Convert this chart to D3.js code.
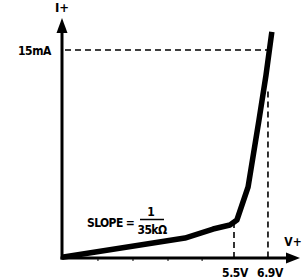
<!DOCTYPE html>
<html><head><meta charset="utf-8">
<script src="https://cdn.jsdelivr.net/npm/d3@7"></script>
<style>
html,body{margin:0;padding:0;background:#fff;}
svg{display:block;}
text{font-family:"DejaVu Sans Condensed","DejaVu Sans",sans-serif;font-weight:bold;fill:#000;}
</style></head>
<body><svg id="c" width="303" height="280"></svg>
<script>
// ---- data (volts, mA) ----
const curveV  = [0.0, 3.93, 4.83, 5.37, 5.62, 6.08, 6.53, 6.82, 7.06];
const curveMA = [0.05, 1.44, 2.09, 2.38, 2.74, 5.12, 9.95, 13.2, 16.3];
const xTickValues = [5.5, 6.9];
const xTickLabels = ["5.5V", "6.9V"];
const minorTicks = [1.15, 2.27, 3.39, 4.48];
const yRefValue = 15;
const yRefLabel = "15mA";
const yAxisLabel = "I+";
const xAxisLabel = "V+";
const slopeLabel = "SLOPE =";
const slopeNum = "1";
const slopeDen = "35kΩ";
const v69TopMA = 12;
const kneeMA = 2.6;
const xAxisEnd = 8.22;

const svg = d3.select("#c");
const x = d3.scaleLinear().domain([0, 5.5, xAxisEnd]).range([62, 234, 300]);
const y = d3.scaleLinear().domain([0, 15]).range([258, 50]);
const yTopMA = y.invert(18);

// dashed guides
const dash = svg.append("g").attr("stroke","#000").attr("stroke-width",1.6)
  .attr("stroke-dasharray","6,4").attr("fill","none");
dash.append("line").attr("x1",x(0)+3).attr("x2",x(6.98)).attr("y1",y(yRefValue)).attr("y2",y(yRefValue));
dash.append("line").attr("x1",x(6.9)).attr("x2",x(6.9)).attr("y1",y(v69TopMA)).attr("y2",y(0));
dash.append("line").attr("x1",x(5.5)).attr("x2",x(5.5)).attr("y1",y(kneeMA)).attr("y2",y(0));

// axes
const ax = svg.append("g");
ax.append("line").attr("x1",x(0)).attr("x2",x(0)).attr("y1",y(0)+1.5).attr("y2",y(yTopMA)+10)
  .attr("stroke","#000").attr("stroke-width",3);
ax.append("line").attr("x1",x(0)-1.5).attr("x2",x(xAxisEnd)-10).attr("y1",y(0)).attr("y2",y(0))
  .attr("stroke","#000").attr("stroke-width",3);
// arrowheads
ax.append("path").attr("d",`M${x(0)},${y(yTopMA)} L${x(0)-5.5},${y(yTopMA)+15} L${x(0)+5.5},${y(yTopMA)+15}Z`).attr("fill","#000");
ax.append("path").attr("d",`M${x(xAxisEnd)},${y(0)} L${x(xAxisEnd)-14},${y(0)-5.5} L${x(xAxisEnd)-14},${y(0)+5.5}Z`).attr("fill","#000");
// minor ticks
ax.selectAll(".mt").data(minorTicks).enter().append("line")
  .attr("x1",d=>x(d)).attr("x2",d=>x(d)).attr("y1",y(0)).attr("y2",y(0)+3)
  .attr("stroke","#000").attr("stroke-width",1);

// curve
const pts = curveV.map((v,i)=>[v,curveMA[i]]);
svg.append("path").datum(pts)
  .attr("d", d3.line().x(d=>x(d[0])).y(d=>y(d[1])).curve(d3.curveLinear))
  .attr("fill","none").attr("stroke","#000").attr("stroke-width",5.5)
  .attr("stroke-linejoin","round").attr("stroke-linecap","butt");

// labels
svg.append("text").attr("x",x(0)).attr("y",12).attr("text-anchor","middle")
  .attr("font-size",13).text(yAxisLabel);
svg.append("text").attr("x",51).attr("y",y(yRefValue)+4.5).attr("text-anchor","end")
  .attr("font-size",12).attr("letter-spacing",-0.4).text(yRefLabel);
svg.append("text").attr("x",293).attr("y",246).attr("text-anchor","middle")
  .attr("font-size",12).text(xAxisLabel);
svg.selectAll(".xt").data(xTickValues).enter().append("text")
  .attr("x",(d,i)=>x(d)+(i===0?1:2)).attr("y",277).attr("text-anchor","middle")
  .attr("font-size",12).attr("letter-spacing",-0.4).text((d,i)=>xTickLabels[i]);

svg.append("text").attr("x",87).attr("y",227).attr("font-size",12).attr("letter-spacing",-0.6).text(slopeLabel);
svg.append("text").attr("x",151).attr("y",216).attr("text-anchor","middle").attr("font-size",12).text(slopeNum);
svg.append("line").attr("x1",140).attr("x2",164).attr("y1",219.5).attr("y2",219.5).attr("stroke","#000").attr("stroke-width",1.5);
svg.append("text").attr("x",152).attr("y",234).attr("text-anchor","middle").attr("font-size",12).attr("letter-spacing",-0.6).text(slopeDen);
</script></body></html>
